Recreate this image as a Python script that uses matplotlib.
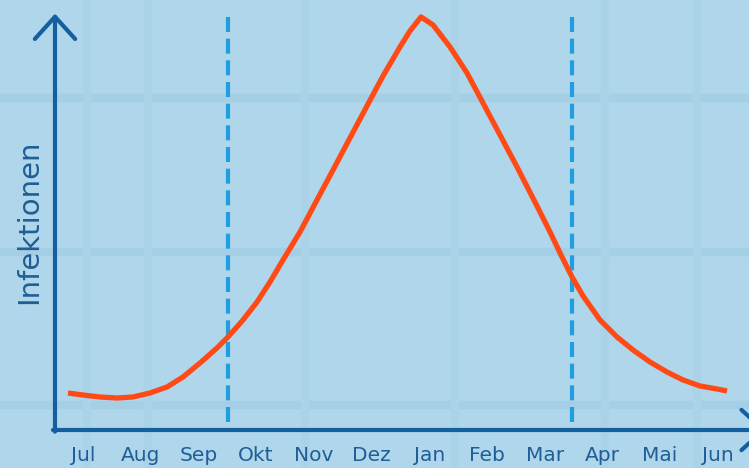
import matplotlib.pyplot as plt
import numpy as np

# month labels along the x axis (Jul = 0)
months = ['Jul', 'Aug', 'Sep', 'Okt', 'Nov', 'Dez', 'Jan', 'Feb', 'Mar', 'Apr', 'Mai', 'Jun']

# infection curve (month position, relative value)
curve_x = [-0.26, 0.0, 0.295, 0.589, 0.867, 1.161, 1.456, 1.733, 2.028, 2.322,
           2.513, 2.773, 3.016, 3.241, 3.466, 3.761, 4.055, 4.333, 4.627, 4.922,
           5.199, 5.494, 5.667, 5.858, 6.066, 6.360, 6.655, 6.932, 7.227, 7.522,
           7.868, 8.094, 8.284, 8.475, 8.666, 8.960, 9.255, 9.532, 9.827, 10.121,
           10.399, 10.693, 10.988, 11.161]
curve_y = [8.96, 8.47, 7.99, 7.75, 7.99, 8.96, 10.41, 12.83, 16.22, 19.85,
           22.52, 26.63, 30.99, 35.84, 41.16, 47.94, 55.69, 62.95, 70.70, 78.45,
           85.71, 92.74, 96.61, 100.0, 98.06, 92.74, 86.44, 79.18, 71.43, 63.68,
           54.24, 47.94, 42.37, 37.05, 32.45, 26.63, 22.52, 19.37, 16.46, 14.04,
           12.11, 10.65, 9.93, 9.44]

# season boundaries (dashed lines)
season_x = [2.513, 8.475]

# faint background pattern
bg_rows = [80.4, 43.1, 6.0]
bg_cols = [0.07, 1.13, 3.85, 6.45, 9.05, 10.64]

bg = '#afd6ea'
axis_col = '#135f9f'
text_col = '#1f5e96'
curve_col = '#ff4a16'
dash_col = '#1f9fe0'

fig = plt.figure(figsize=(7.49, 4.68), dpi=100)
fig.patch.set_facecolor(bg)
ax = fig.add_axes([0, 0, 1, 1])
ax.set_facecolor(bg)
ax.set_xlim(-1.438, 11.542)
ax.set_ylim(-9.2, 104.1)
ax.axis('off')

for r in bg_rows:
    ax.axhline(r, color='#a5cfe5', lw=6, zorder=0)
for c in bg_cols:
    ax.axvline(c, color='#abd3e8', lw=6, zorder=0)

# axes with open arrow heads
head = '->,head_length=1.6,head_width=1.45'
ax.annotate('', xy=(-0.485, 100.8), xytext=(-0.485, -0.4),
            arrowprops=dict(arrowstyle=head, color=axis_col, lw=3,
                            shrinkA=0, shrinkB=0), annotation_clip=False)
ax.annotate('', xy=(11.85, 0), xytext=(-0.52, 0),
            arrowprops=dict(arrowstyle=head, color=axis_col, lw=3,
                            shrinkA=0, shrinkB=0), annotation_clip=False)

for sx in season_x:
    ax.plot([sx, sx], [1.9, 100.7], color=dash_col, lw=3,
            linestyle=(0, (3.6, 1.6)), zorder=2)

ax.plot(curve_x, curve_y, color=curve_col, lw=3.8, solid_capstyle='butt',
        solid_joinstyle='round', zorder=3)

for i, m in enumerate(months):
    ax.text(i, -6.2, m, ha='center', va='center', fontsize=14.5, color=text_col)

ax.text(-0.93, 50.4, 'Infektionen', rotation=90, ha='center', va='center',
        fontsize=21, color=text_col)

fig.savefig('out.png', dpi=100, facecolor=bg)
